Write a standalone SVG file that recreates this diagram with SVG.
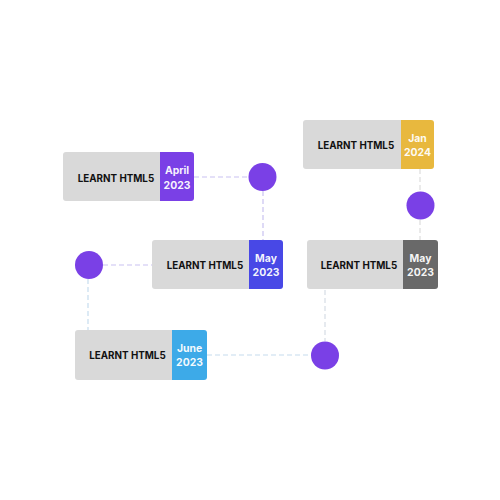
<svg xmlns="http://www.w3.org/2000/svg" width="500" height="500" viewBox="0 0 500 500">
<style>
.box{fill:#d9d9d9}
.lbl{font-family:Inter,"Liberation Sans",sans-serif;font-weight:700;font-size:9.8px;fill:#111;text-anchor:middle}
.tab{font-family:Inter,"Liberation Sans",sans-serif;font-weight:700;font-size:10.4px;fill:#fff;fill-opacity:0.95;text-anchor:middle}
.dot{fill:#7a40e6}
.c{fill:none;stroke-width:1.2;stroke-dasharray:5 3}
</style>
<rect width="500" height="500" fill="#fff"/>
<g id="connectors">
<path class="c" stroke="#c9c2f1" d="M194 177H248M263 191V240"/>
<path class="c" stroke="#c9c2f1" d="M103 265H152"/>
<path class="c" stroke="#c6dcee" d="M88 279V330"/>
<path class="c" stroke="#c6dcee" d="M207 355H311"/>
<path class="c" stroke="#d6dde4" d="M325 290V341"/>
<path class="c" stroke="#dddddd" d="M420 169V191M420 220V240"/>
</g>
<g id="node-april">
<path class="box" d="M66 152H161V201H66A3 3 0 0 1 63 198V155A3 3 0 0 1 66 152Z"/>
<path fill="#7a40e6" d="M160 152H191A3 3 0 0 1 194 155V198A3 3 0 0 1 191 201H160Z"/>
<text class="lbl" x="116" y="181.5">LEARNT HTML5</text>
<text class="tab" x="177" y="173.8">April</text>
<text class="tab" x="177" y="188.5">2023</text>
</g>
<g id="dot-1"><circle class="dot" cx="262.5" cy="177" r="14"/></g>
<g id="node-may-blue">
<path class="box" d="M155 240H250V289H155A3 3 0 0 1 152 286V243A3 3 0 0 1 155 240Z"/>
<path fill="#4848e6" d="M249 240H280A3 3 0 0 1 283 243V286A3 3 0 0 1 280 289H249Z"/>
<text class="lbl" x="205" y="268.5">LEARNT HTML5</text>
<text class="tab" x="266" y="261.5">May</text>
<text class="tab" x="266" y="276.2">2023</text>
</g>
<g id="dot-2"><circle class="dot" cx="89" cy="265" r="14"/></g>
<g id="node-june">
<path class="box" d="M78 330H173V380H78A3 3 0 0 1 75 377V333A3 3 0 0 1 78 330Z"/>
<path fill="#3daae8" d="M172 330H204A3 3 0 0 1 207 333V377A3 3 0 0 1 204 380H172Z"/>
<text class="lbl" x="127.5" y="358.5">LEARNT HTML5</text>
<text class="tab" x="189.5" y="351.8">June</text>
<text class="tab" x="189.5" y="366.3">2023</text>
</g>
<g id="dot-3"><circle class="dot" cx="325" cy="355.5" r="14"/></g>
<g id="node-may-gray">
<path class="box" d="M310 240H404V289H310A3 3 0 0 1 307 286V243A3 3 0 0 1 310 240Z"/>
<path fill="#696969" d="M403 240H435A3 3 0 0 1 438 243V286A3 3 0 0 1 435 289H403Z"/>
<text class="lbl" x="359" y="268.5">LEARNT HTML5</text>
<text class="tab" x="420.5" y="261.5">May</text>
<text class="tab" x="420.5" y="276.2">2023</text>
</g>
<g id="dot-4"><circle class="dot" cx="420.5" cy="205.5" r="14"/></g>
<g id="node-jan">
<path class="box" d="M306 120H402V169H306A3 3 0 0 1 303 166V123A3 3 0 0 1 306 120Z"/>
<path fill="#e8b83e" d="M401 120H431A3 3 0 0 1 434 123V166A3 3 0 0 1 431 169H401Z"/>
<text class="lbl" x="356" y="148.5">LEARNT HTML5</text>
<text class="tab" x="417.5" y="141.5">Jan</text>
<text class="tab" x="417.5" y="156.2">2024</text>
</g>
</svg>
